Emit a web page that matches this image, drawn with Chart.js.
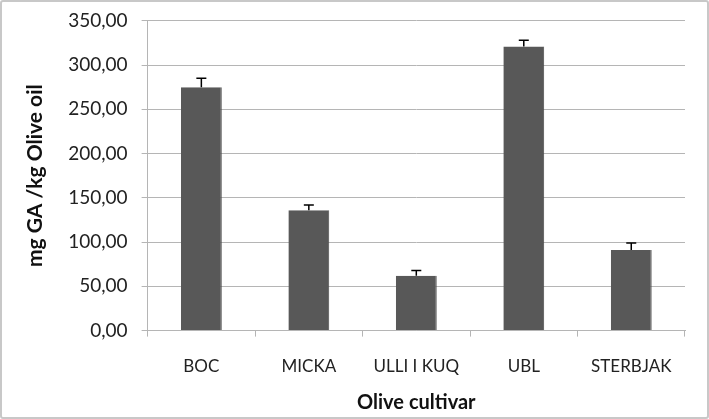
<!DOCTYPE html>
<html>
<head>
<meta charset="utf-8">
<script src="https://cdn.jsdelivr.net/npm/chart.js@4.4.0/dist/chart.umd.min.js"></script>
<style>
  html, body { margin: 0; padding: 0; background: #fff; }
  #wrap { position: relative; width: 705px; height: 415px; border: 2px solid #c8c8c8; border-radius: 3px; }
  canvas { display: block; }
</style>
</head>
<body>
<div id="wrap"><canvas id="chart" width="705" height="415"></canvas></div>
<script>
const cultivars = ["BOC", "MICKA", "ULLI I KUQ", "UBL", "STERBJAK"];
const phenolValues = [275, 136, 62, 321, 91];
const phenolErrors = [10, 6, 6, 7, 8];
const yTicks = [0, 50, 100, 150, 200, 250, 300, 350];

// draws the upper half of each error bar with a small cap
const errorBarPlugin = {
  id: "errorBars",
  afterDatasetsDraw(chart) {
    const ctx = chart.ctx;
    const yScale = chart.scales.y;
    const meta = chart.getDatasetMeta(0);
    ctx.save();
    ctx.strokeStyle = "#000";
    ctx.lineWidth = 1.5;
    meta.data.forEach((bar, i) => {
      const top = yScale.getPixelForValue(phenolValues[i] + phenolErrors[i]);
      ctx.beginPath();
      ctx.moveTo(bar.x, bar.y);
      ctx.lineTo(bar.x, top);
      ctx.moveTo(bar.x - 5, top);
      ctx.lineTo(bar.x + 5, top);
      ctx.stroke();
    });
    ctx.restore();
  },
};

const fontFamily = "Lato, 'Open Sans', sans-serif";

new Chart(document.getElementById("chart"), {
  type: "bar",
  data: {
    labels: cultivars,
    datasets: [
      {
        data: phenolValues,
        backgroundColor: "#585858",
        borderColor: "#4a4a4a",
        borderWidth: { right: 1, left: 0, top: 0, bottom: 0 },
        categoryPercentage: 1,
        barPercentage: 0.38,
      },
    ],
  },
  options: {
    responsive: false,
    animation: false,
    layout: { padding: { top: 16, right: 22, bottom: 0, left: 21 } },
    plugins: {
      legend: { display: false },
      tooltip: { enabled: false },
    },
    scales: {
      x: {
        offset: true,
        grid: { offset: true, drawOnChartArea: false, color: "#b5b5b5", tickLength: 6 },
        border: { color: "#b5b5b5" },
        ticks: { color: "#222", font: { family: fontFamily, size: 17 }, padding: 20 },
        title: {
          display: true,
          text: "Olive cultivar",
          color: "#111",
          font: { family: fontFamily, size: 20, weight: "bold" },
          padding: { top: -6, bottom: 2 },
        },
      },
      y: {
        min: 0,
        max: 350,
        afterBuildTicks: (scale) => {
          scale.ticks = yTicks.map((v) => ({ value: v }));
        },
        grid: { color: "#b5b5b5", tickLength: 6 },
        border: { color: "#b5b5b5" },
        ticks: {
          color: "#222",
          font: { family: fontFamily, size: 19, lineHeight: 0.5 },
          padding: 14,
          callback: (v) => v.toFixed(2).replace(".", ","),
        },
        title: {
          display: true,
          text: "mg GA /kg Olive oil",
          color: "#111",
          font: { family: fontFamily, size: 21, weight: "bold" },
          padding: { top: 0, bottom: 6 },
        },
      },
    },
  },
  plugins: [errorBarPlugin],
});
</script>
</body>
</html>
